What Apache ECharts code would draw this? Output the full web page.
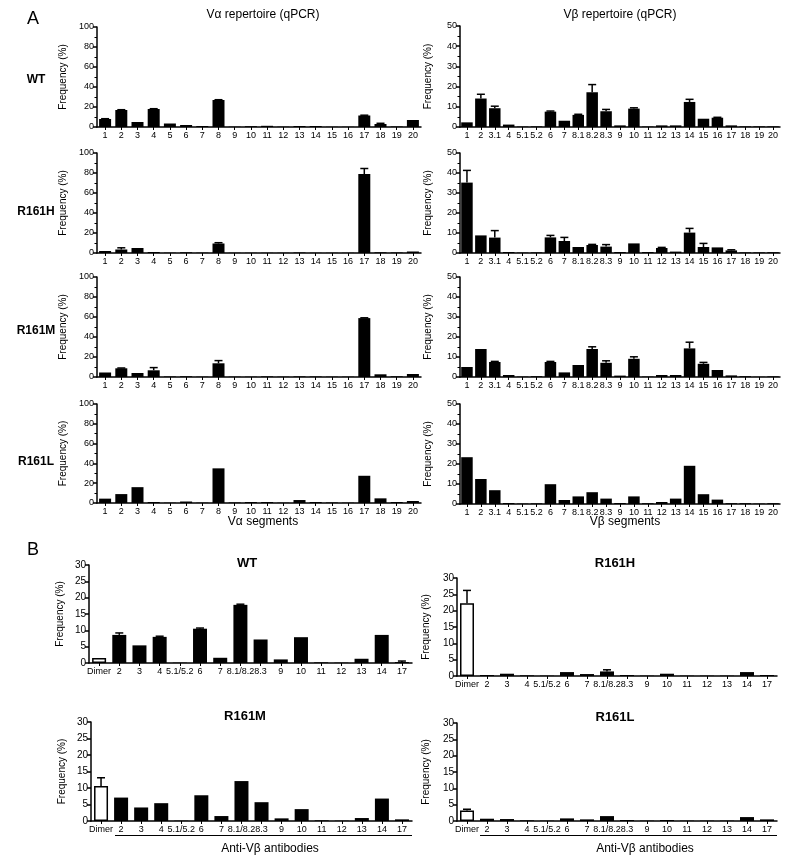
<!DOCTYPE html>
<html><head><meta charset="utf-8">
<script src="https://cdn.jsdelivr.net/npm/echarts@6/dist/echarts.min.js"></script>
<style>html,body{margin:0;padding:0;background:#fff}#c{width:800px;height:864px}</style>
</head><body><div id="c"></div>
<script>
// ---------- DATA ----------
const vaCats = ['1','2','3','4','5','6','7','8','9','10','11','12','13','14','15','16','17','18','19','20'];
const vbCats = ['1','2','3.1','4','5.1','5.2','6','7','8.1','8.2','8.3','9','10','11','12','13','14','15','16','17','18','19','20'];
const abCats = ['Dimer','2','3','4','5.1/5.2','6','7','8.1/8.2','8.3','9','10','11','12','13','14','17'];

const vaTicks = [0,20,40,60,80,100];
const vbTicks = [0,10,20,30,40,50];
const abTicks = [0,5,10,15,20,25,30];

const vaWT      = [8,17,5,18,3.5,2,1,27,0.3,0.8,1.2,0.3,1,1,0.2,0.2,11.5,3,0.5,7];
const vaWTErr   = [0.3,0.3,0,0.3,0,0,0,0.3,0,0,0,0,0,0,0,0,0.3,0.7,0,0];
const vaR161H   = [2,3.5,5,1,0.3,0.7,0.3,9.5,0.2,0.2,0.2,0.2,0.5,0.2,0.2,0.2,79,0.7,0.5,1.5];
const vaR161HErr= [0,1.7,0,0,0,0,0,0.8,0,0,0,0,0,0,0,0,5.5,0,0,0];
const vaR161M   = [4.5,8.7,4,6.7,0.5,0.7,0.3,13.7,0.3,0.3,0.6,0.3,0.6,0.5,0.3,0.3,58.9,2.7,0.7,3];
const vaR161MErr= [0,0.3,0,2.7,0,0,0,2.7,0,0,0,0,0,0,0,0,0.3,0,0,0];
const vaR161L   = [4.4,9,16,1,0.3,1.5,0.3,35,0.5,1,1,0.3,3,1,0.5,0.3,27.5,4.7,1,2];
const vaR161LErr= [0,0,0,0,0,0,0,0,0,0,0,0,0,0,0,0,0,0,0,0];

const vbWT      = [2.3,14.1,9.3,1.2,0.2,0.3,7.6,3.1,6,17.2,7.8,0.8,9.1,0.2,0.8,0.8,12.4,4.1,4.6,0.8,0.3,0.3,0.3];
const vbWTErr   = [0,2.1,1,0,0,0,0.3,0,0.3,3.8,0.9,0,0.4,0,0,0,1.3,0,0.2,0,0,0,0];
const vbR161H   = [35.2,8.8,7.7,0.5,0.2,0.3,7.8,6,3,4,3.2,0.5,4.8,0.5,2.5,0.7,10.2,3,2.8,1.3,0.3,0.3,0.4];
const vbR161HErr= [6.1,0,3.5,0,0,0,1,1.8,0,0.3,1,0,0,0,0.3,0,2.1,1.8,0,0.3,0,0,0];
const vbR161M   = [5,14,7.5,1,0.2,0.4,7.5,2.3,6,14,7.1,0.7,9.1,0.2,1,1,14.3,6.6,3.5,0.8,0.4,0.1,0.3];
const vbR161MErr= [0,0,0.3,0,0,0,0.3,0,0,1.1,1,0,1,0,0,0,3.1,0.7,0,0,0,0,0];
const vbR161L   = [23.4,12.5,6.9,0.5,0.2,0.3,9.9,2,3.8,5.9,2.7,0.5,3.8,0.4,1,2.7,19.1,4.9,2.2,0.4,0.4,0.2,0.4];
const vbR161LErr= [0,0,0,0,0,0,0,0,0,0,0,0,0,0,0,0,0,0,0,0,0,0,0];

const abWT      = [1.5,8.6,5.4,8,0.1,10.5,1.6,17.8,7.2,1.1,7.9,0.2,0.1,1.3,8.6,0.3];
const abWTErr   = [0,0.6,0,0.2,0,0.2,0,0.2,0,0,0,0,0,0,0,0.3];
const abR161H   = [22.3,0.3,0.7,0.2,0.1,1.2,0.6,1.4,0.3,0.1,0.7,0.1,0.1,0.1,1.2,0.3];
const abR161HErr= [3.9,0,0,0,0,0,0,0.5,0,0,0,0,0,0,0,0];
const abR161M   = [10.6,7.1,4.1,5.4,0.1,7.8,1.5,12.1,5.7,0.8,3.6,0.2,0.1,0.9,6.8,0.5];
const abR161MErr= [2.5,0,0,0,0,0,0,0,0,0,0,0,0,0,0,0];
const abR161L   = [3.2,0.7,0.6,0.2,0.1,0.8,0.5,1.5,0.3,0.1,0.3,0.1,0.1,0.1,1.2,0.5];
const abR161LErr= [0.4,0,0,0,0,0,0,0,0,0,0,0,0,0,0,0];

// ---------- LAYOUT ----------
const FONT = "'Liberation Sans', Arial, Helvetica, sans-serif";
const panels = [
  {cats:vaCats, ticks:vaTicks, vals:vaWT,    errs:vaWTErr,    left:97,  top:27,  width:324, height:100, barW:12, gap:29, minor:true,  xfs:9, yfs:9},
  {cats:vaCats, ticks:vaTicks, vals:vaR161H, errs:vaR161HErr, left:97,  top:153, width:324, height:100, barW:12, gap:29, minor:true,  xfs:9, yfs:9},
  {cats:vaCats, ticks:vaTicks, vals:vaR161M, errs:vaR161MErr, left:97,  top:277, width:324, height:100, barW:12, gap:29, minor:true,  xfs:9, yfs:9},
  {cats:vaCats, ticks:vaTicks, vals:vaR161L, errs:vaR161LErr, left:97,  top:404, width:324, height:99,  barW:12, gap:29, minor:true,  xfs:9, yfs:9},
  {cats:vbCats, ticks:vbTicks, vals:vbWT,    errs:vbWTErr,    left:460, top:26,  width:320, height:101, barW:11.5, gap:27, minor:true, xfs:9, yfs:9},
  {cats:vbCats, ticks:vbTicks, vals:vbR161H, errs:vbR161HErr, left:460, top:153, width:320, height:100, barW:11.5, gap:27, minor:true, xfs:9, yfs:9},
  {cats:vbCats, ticks:vbTicks, vals:vbR161M, errs:vbR161MErr, left:460, top:277, width:320, height:100, barW:11.5, gap:27, minor:true, xfs:9, yfs:9},
  {cats:vbCats, ticks:vbTicks, vals:vbR161L, errs:vbR161LErr, left:460, top:404, width:320, height:100, barW:11.5, gap:27, minor:true, xfs:9, yfs:9},
  {cats:abCats, ticks:abTicks, vals:abWT,    errs:abWTErr,    left:89,  top:565, width:323, height:98,  barW:14, gap:24, minor:false, xfs:9, yfs:10},
  {cats:abCats, ticks:abTicks, vals:abR161H, errs:abR161HErr, left:457, top:578, width:320, height:98,  barW:14, gap:26, minor:false, xfs:9, yfs:10},
  {cats:abCats, ticks:abTicks, vals:abR161M, errs:abR161MErr, left:91,  top:722, width:321, height:99,  barW:14, gap:24, minor:false, xfs:9, yfs:10},
  {cats:abCats, ticks:abTicks, vals:abR161L, errs:abR161LErr, left:457, top:723, width:320, height:98,  barW:14, gap:26, minor:false, xfs:9, yfs:10}
];

function errRender(params, api){
  const e = api.value(2);
  if (!(e > 0)) return;
  const x = api.value(0), v = api.value(1);
  const b = api.coord([x, v]), t = api.coord([x, v + e]);
  const cw = 4;
  return {type:'group', children:[
    {type:'line', shape:{x1:b[0], y1:b[1], x2:t[0], y2:t[1]}, style:{stroke:'#000', lineWidth:1.5}},
    {type:'line', shape:{x1:t[0]-cw, y1:t[1], x2:t[0]+cw, y2:t[1]}, style:{stroke:'#000', lineWidth:1.5}}
  ]};
}

const grids = [], xAxes = [], yAxes = [], series = [];
panels.forEach((p, i) => {
  const tmax = p.ticks[p.ticks.length-1];
  const tint = p.ticks[1] - p.ticks[0];
  grids.push({left:p.left, top:p.top, width:p.width, height:p.height});
  xAxes.push({
    type:'category', gridIndex:i, data:p.cats, boundaryGap:true,
    axisLine:{lineStyle:{color:'#000', width:1.5}},
    axisTick:{show:true, alignWithLabel:true, length:3, lineStyle:{color:'#000', width:1}},
    axisLabel:{interval:0, color:'#000', fontSize:p.xfs, fontFamily:FONT, margin:4, hideOverlap:false}
  });
  yAxes.push({
    type:'value', gridIndex:i, min:p.ticks[0], max:tmax, interval:tint,
    name:'Frequency (%)', nameLocation:'middle', nameRotate:90, nameGap:p.gap,
    nameTextStyle:{color:'#000', fontSize:10, fontFamily:FONT},
    axisLine:{show:true, lineStyle:{color:'#000', width:1.5}},
    axisTick:{show:true, length:4, lineStyle:{color:'#000', width:1.5}},
    minorTick:{show:p.minor, splitNumber:2, length:2.5, lineStyle:{color:'#000', width:1}},
    splitLine:{show:false},
    axisLabel:{color:'#000', fontSize:p.yfs, fontFamily:FONT, margin:3}
  });
  series.push({
    type:'bar', xAxisIndex:i, yAxisIndex:i, barWidth:p.barW, animation:false,
    itemStyle:{color:'#000'},
    data:p.vals.map((v, k) => p.cats[k] === 'Dimer'
      ? {value:v, itemStyle:{color:'#fff', borderColor:'#000', borderWidth:1.5}}
      : v)
  });
  series.push({
    type:'custom', xAxisIndex:i, yAxisIndex:i, z:5, animation:false,
    data:p.errs.map((e, k) => [k, p.vals[k], e]),
    renderItem:errRender
  });
});

function txt(text, x, y, size, bold, align){
  return {type:'text', x:x, y:y, style:{text:text, textAlign:align||'center', textVerticalAlign:'middle',
    font:(bold?'bold ':'') + size + 'px ' + FONT, fill:'#000'}};
}
function hline(x1, x2, y){
  return {type:'line', shape:{x1:x1, y1:y, x2:x2, y2:y}, style:{stroke:'#000', lineWidth:1}};
}

const graphics = [
  txt('A', 27, 19, 18, false, 'left'),
  txt('B', 27, 550, 18, false, 'left'),
  txt('Vα repertoire (qPCR)', 263, 15, 12),
  txt('Vβ repertoire (qPCR)', 620, 15, 12),
  txt('WT', 36, 80, 12, true),
  txt('R161H', 36, 212, 12, true),
  txt('R161M', 36, 331, 12, true),
  txt('R161L', 36, 462, 12, true),
  txt('Vα segments', 263, 522, 12),
  txt('Vβ segments', 625, 522, 12),
  txt('WT', 247, 563, 13, true),
  txt('R161H', 615, 563, 13, true),
  txt('R161M', 245, 716, 13, true),
  txt('R161L', 615, 717, 13, true),
  hline(115, 412, 835.5),
  hline(480, 777, 835.5),
  txt('Anti-Vβ antibodies', 270, 849, 12),
  txt('Anti-Vβ antibodies', 645, 849, 12)
];

const chart = echarts.init(document.getElementById('c'), null, {renderer:'canvas'});
chart.setOption({
  backgroundColor:'#fff',
  animation:false,
  textStyle:{fontFamily:FONT},
  grid:grids, xAxis:xAxes, yAxis:yAxes, series:series,
  graphic:graphics
});
</script>
</body></html>
